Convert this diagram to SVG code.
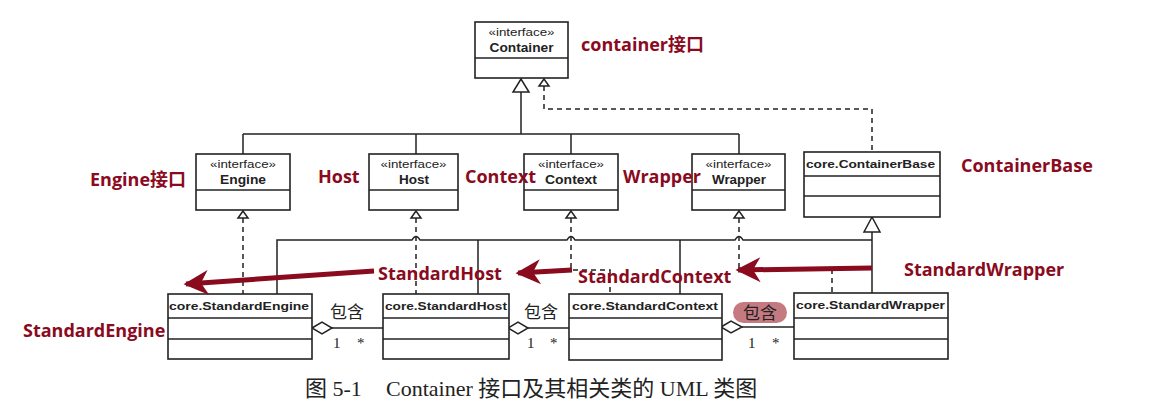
<svg xmlns="http://www.w3.org/2000/svg" width="1174" height="415" viewBox="0 0 1174 415">
<style>
.box{fill:#fff;stroke:#222;stroke-width:1.6}
.div{stroke:#222;stroke-width:1.4}
.st{font-family:"Liberation Sans",Arial,sans-serif;font-size:10px;fill:#222;text-anchor:middle}
.nm{font-family:"Liberation Sans",Arial,sans-serif;font-size:12px;font-weight:bold;fill:#222;text-anchor:middle}
.ct{font-family:"Liberation Sans",Arial,sans-serif;font-size:11px;font-weight:bold;fill:#222}
.ln{fill:none;stroke:#222;stroke-width:1.5}
.dl{fill:none;stroke:#222;stroke-width:1.5;stroke-dasharray:5,4}
.tri{fill:#fff;stroke:#222;stroke-width:1.5}
.red{font-family:"Open Sans","Noto Sans","Noto Sans CJK SC",sans-serif;font-size:18px;font-weight:bold;fill:#8a0a1e}
.cn{font-family:"Noto Sans CJK SC",sans-serif;font-size:17px;fill:#222}
.mul{font-family:"Liberation Serif",serif;font-size:15px;fill:#222}
.arr{fill:none;stroke:#8a0a1e;stroke-width:5}
.cap{font-family:"Liberation Serif","Noto Sans CJK SC",serif;font-size:22px;fill:#222}
</style>
<defs>
<marker id="rh" viewBox="0 0 10 10" refX="9" refY="5" markerWidth="5.5" markerHeight="5" markerUnits="strokeWidth" orient="auto">
<path d="M0,0 L10,5 L0,10 L3,5 Z" fill="#8a0a1e"/>
</marker>
</defs>
<rect width="1174" height="415" fill="#fff"/>

<g id="connectors">
<path class="ln" d="M521,92 V134 M243,134 H739 M243,134 V154 M416,134 V154 M571,134 V154 M739,134 V154"/>
<polygon class="tri" points="521,79 513,92 529,92"/>
<path class="dl" d="M544,86 V109 H872 V152"/>
<polygon class="tri" points="544,79 539,86 549,86"/>
<path class="dl" d="M243,218 V294"/>
<polygon class="tri" points="243,211 238,218 248,218"/>
<path class="dl" d="M416,218 V294"/>
<polygon class="tri" points="416,211 411,218 421,218"/>
<path class="dl" d="M571,218 V270 H610 V294"/>
<polygon class="tri" points="571,211 566,218 576,218"/>
<path class="dl" d="M739,218 V270 H832 V294"/>
<polygon class="tri" points="739,211 734,218 744,218"/>
<path class="ln" d="M872,232 V294 M872,240 H743 Q739,233 735,240 H575 Q571,233 567,240 H420 Q416,233 412,240 H277 V294 M478,240 V294 M680,240 V294"/>
<polygon class="tri" points="872,217 864,232 880,232"/>
<path class="ln" d="M332,328 H383"/>
<polygon class="tri" points="312,328 322,322 332,328 322,334"/>
<path class="ln" d="M528,328 H569"/>
<polygon class="tri" points="508,328 518,322 528,328 518,334"/>
<path class="ln" d="M742,327 H794"/>
<polygon class="tri" points="721,327 731,321 742,327 731,333"/>
</g>

<g id="container">
<rect class="box" x="475" y="22" width="93" height="56"/>
<line class="div" x1="475" y1="58" x2="568" y2="58"/>
<text class="st" x="521.5" y="36" textLength="66" lengthAdjust="spacingAndGlyphs">«interface»</text>
<text class="nm" x="521.5" y="52" textLength="64" lengthAdjust="spacingAndGlyphs">Container</text>
</g>
<g id="engine">
<rect class="box" x="196" y="154" width="94" height="56"/>
<line class="div" x1="196" y1="190" x2="290" y2="190"/>
<text class="st" x="243" y="168" textLength="66" lengthAdjust="spacingAndGlyphs">«interface»</text>
<text class="nm" x="243" y="184" textLength="46" lengthAdjust="spacingAndGlyphs">Engine</text>
</g>
<g id="host">
<rect class="box" x="369" y="154" width="89" height="56"/>
<line class="div" x1="369" y1="190" x2="458" y2="190"/>
<text class="st" x="413.5" y="168" textLength="66" lengthAdjust="spacingAndGlyphs">«interface»</text>
<text class="nm" x="414" y="184" textLength="30" lengthAdjust="spacingAndGlyphs">Host</text>
</g>
<g id="context">
<rect class="box" x="524" y="154" width="94" height="56"/>
<line class="div" x1="524" y1="190" x2="618" y2="190"/>
<text class="st" x="571" y="168" textLength="66" lengthAdjust="spacingAndGlyphs">«interface»</text>
<text class="nm" x="571" y="184" textLength="52" lengthAdjust="spacingAndGlyphs">Context</text>
</g>
<g id="wrapper">
<rect class="box" x="692" y="154" width="93" height="56"/>
<line class="div" x1="692" y1="190" x2="785" y2="190"/>
<text class="st" x="738.5" y="168" textLength="66" lengthAdjust="spacingAndGlyphs">«interface»</text>
<text class="nm" x="739" y="184" textLength="54" lengthAdjust="spacingAndGlyphs">Wrapper</text>
</g>
<g id="containerbase">
<rect class="box" x="804" y="152" width="136" height="65"/>
<line class="div" x1="804" y1="176" x2="940" y2="176"/>
<line class="div" x1="804" y1="196" x2="940" y2="196"/>
<text class="ct" x="806" y="168" textLength="129" lengthAdjust="spacingAndGlyphs">core.ContainerBase</text>
</g>
<g id="standardengine">
<rect class="box" x="168" y="294" width="144" height="65"/>
<line class="div" x1="168" y1="318" x2="312" y2="318"/>
<line class="div" x1="168" y1="339" x2="312" y2="339"/>
<text class="ct" x="169" y="310" textLength="140" lengthAdjust="spacingAndGlyphs">core.StandardEngine</text>
</g>
<g id="standardhost">
<rect class="box" x="383" y="294" width="126" height="65"/>
<line class="div" x1="383" y1="318" x2="509" y2="318"/>
<line class="div" x1="383" y1="339" x2="509" y2="339"/>
<text class="ct" x="385" y="310" textLength="122" lengthAdjust="spacingAndGlyphs">core.StandardHost</text>
</g>
<g id="standardcontext">
<rect class="box" x="569" y="294" width="153" height="66"/>
<line class="div" x1="569" y1="318" x2="722" y2="318"/>
<line class="div" x1="569" y1="339" x2="722" y2="339"/>
<text class="ct" x="572" y="310" textLength="146" lengthAdjust="spacingAndGlyphs">core.StandardContext</text>
</g>
<g id="standardwrapper">
<rect class="box" x="794" y="293" width="154" height="66"/>
<line class="div" x1="794" y1="318" x2="948" y2="318"/>
<line class="div" x1="794" y1="339" x2="948" y2="339"/>
<text class="ct" x="796" y="309" textLength="149" lengthAdjust="spacingAndGlyphs">core.StandardWrapper</text>
</g>

<g id="multiplicities">
<text class="cn" x="330" y="318">包含</text>
<text class="mul" x="333" y="348">1</text>
<text class="mul" x="357" y="348">*</text>
<text class="cn" x="524" y="318">包含</text>
<text class="mul" x="527" y="348">1</text>
<text class="mul" x="550" y="348">*</text>
<rect x="733" y="302" width="54" height="21" rx="10.5" fill="#c57a82"/>
<text class="cn" x="743" y="319">包含</text>
<text class="mul" x="748" y="348">1</text>
<text class="mul" x="772" y="348">*</text>
</g>

<g id="annotations">
<line class="arr" x1="374" y1="271" x2="186" y2="284" marker-end="url(#rh)"/>
<line class="arr" x1="572" y1="270" x2="518" y2="273" marker-end="url(#rh)"/>
<line class="arr" x1="872" y1="268" x2="738" y2="270" marker-end="url(#rh)"/>
<text class="red" x="581" y="51">container接口</text>
<text class="red" x="90" y="186">Engine接口</text>
<text class="red" x="318" y="183">Host</text>
<text class="red" x="465" y="183">Context</text>
<text class="red" x="623" y="183">Wrapper</text>
<text class="red" x="961" y="172">ContainerBase</text>
<text class="red" x="378" y="280">StandardHost</text>
<text class="red" x="578" y="283">StandardContext</text>
<text class="red" x="904" y="276">StandardWrapper</text>
<text class="red" x="23" y="337">StandardEngine</text>
</g>

<g id="caption">
<text class="cap" x="305" y="396">图 5-1</text>
<text class="cap" x="386" y="396">Container 接口及其相关类的 UML 类图</text>
</g>
</svg>
